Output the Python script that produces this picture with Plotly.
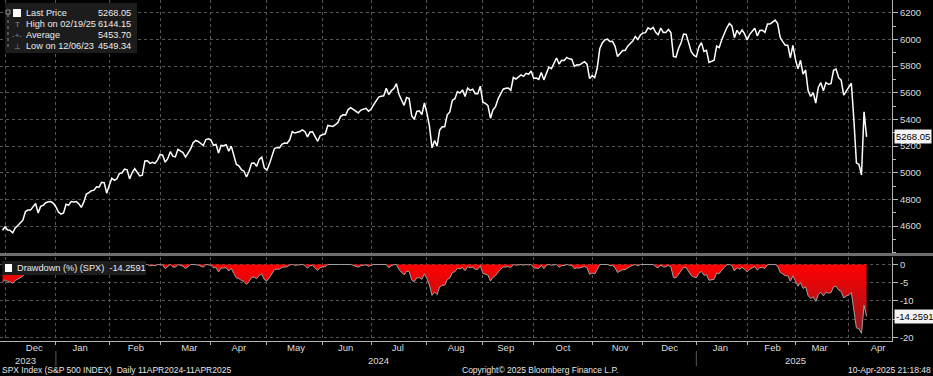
import pandas as pd
import plotly.graph_objects as go

# ---------------- data (SPX daily closes) ----------------
HOLIDAYS = ["2023-12-25", "2024-01-01", "2024-01-15", "2024-02-19", "2024-03-29",
            "2024-05-27", "2024-06-19", "2024-07-04", "2024-09-02", "2024-11-28",
            "2024-12-25", "2025-01-01", "2025-01-09", "2025-01-20", "2025-02-17",
            "2025-04-18"]

close_2023_11 = [4567.80]
close_2023_12 = [4594.63, 4569.78, 4567.18, 4549.34, 4585.59, 4604.37, 4622.44, 4643.70,
                 4707.09, 4719.55, 4719.19, 4740.56, 4768.37, 4698.35, 4746.75, 4754.63,
                 4774.75, 4781.58, 4783.35, 4769.83]
close_2024_01 = [4742.83, 4704.81, 4688.68, 4697.24, 4763.54, 4756.50, 4783.45, 4780.24,
                 4783.83, 4765.98, 4739.21, 4780.94, 4839.81, 4850.43, 4864.60, 4868.55,
                 4894.16, 4890.97, 4927.93, 4924.97, 4845.65]
close_2024_02 = [4906.19, 4958.61, 4942.81, 4954.23, 4995.06, 4997.91, 5026.61, 5021.84,
                 4953.17, 5000.62, 5029.73, 5005.57, 4975.51, 4981.80, 5087.03, 5088.80,
                 5069.53, 5078.18, 5069.76, 5096.27]
close_2024_03 = [5137.08, 5130.95, 5078.65, 5104.76, 5157.36, 5123.69, 5117.94, 5175.27,
                 5165.31, 5150.48, 5117.09, 5149.42, 5178.51, 5224.62, 5241.53, 5234.18,
                 5218.19, 5203.58, 5248.49, 5254.35]
close_2024_04 = [5243.77, 5205.81, 5211.49, 5147.21, 5204.34, 5202.39, 5209.91, 5160.64,
                 5199.06, 5123.41, 5061.82, 5051.41, 5022.21, 5011.12, 4967.23, 5010.60,
                 5070.55, 5071.63, 5048.42, 5099.96, 5116.17, 5035.69]
close_2024_05 = [5018.39, 5064.20, 5127.79, 5180.74, 5187.70, 5187.67, 5214.08, 5222.68,
                 5221.42, 5246.68, 5308.15, 5297.10, 5303.27, 5308.13, 5321.41, 5307.01,
                 5267.84, 5304.72, 5306.04, 5266.95, 5235.48, 5277.51]
close_2024_06 = [5283.40, 5291.34, 5354.03, 5352.96, 5346.99, 5360.79, 5375.32, 5421.03,
                 5433.74, 5431.60, 5473.23, 5487.03, 5473.17, 5464.62, 5447.87, 5469.30,
                 5477.90, 5482.87, 5460.48]
close_2024_07 = [5475.09, 5509.01, 5537.02, 5567.19, 5572.85, 5576.98, 5633.91, 5584.54,
                 5615.35, 5631.22, 5667.20, 5588.27, 5544.59, 5505.00, 5564.41, 5555.74,
                 5427.13, 5399.22, 5459.10, 5463.54, 5436.44, 5522.30]
close_2024_08 = [5446.68, 5346.56, 5186.33, 5240.03, 5199.50, 5319.31, 5344.16, 5344.39,
                 5434.43, 5455.21, 5543.22, 5554.25, 5608.25, 5597.12, 5620.85, 5570.64,
                 5634.61, 5616.84, 5625.80, 5592.18, 5591.96, 5648.40]
close_2024_09 = [5528.93, 5520.07, 5503.41, 5408.42, 5471.05, 5495.52, 5554.13, 5595.76,
                 5626.02, 5633.09, 5634.58, 5618.26, 5713.64, 5702.55, 5718.57, 5732.93,
                 5722.26, 5745.37, 5738.17, 5762.48]
close_2024_10 = [5708.75, 5709.54, 5699.94, 5751.07, 5695.94, 5751.13, 5792.04, 5780.05,
                 5815.03, 5859.85, 5815.26, 5842.47, 5841.47, 5864.67, 5853.98, 5851.20,
                 5797.42, 5809.86, 5808.12, 5823.52, 5832.92, 5813.67, 5705.45]
close_2024_11 = [5728.80, 5712.69, 5782.76, 5929.04, 5973.10, 5995.54, 6001.35, 5983.99,
                 5985.38, 5949.17, 5870.62, 5893.62, 5916.98, 5917.11, 5948.71, 5969.34,
                 5987.37, 6021.63, 5998.74, 6032.38]
close_2024_12 = [6047.15, 6049.88, 6086.49, 6075.11, 6090.27, 6052.85, 6034.91, 6084.19,
                 6051.25, 6051.09, 6074.08, 6050.61, 5872.16, 5867.08, 5930.85, 5974.07,
                 6040.04, 6037.59, 5970.84, 5906.94, 5881.63]
close_2025_01 = [5868.55, 5942.47, 5975.38, 5909.03, 5918.25, 5827.04, 5836.22, 5842.91,
                 5949.91, 5937.34, 5996.66, 6049.24, 6086.37, 6118.71, 6101.24, 6012.28,
                 6067.70, 6039.31, 6071.17, 6040.53]
close_2025_02 = [5994.57, 6037.88, 6061.48, 6083.57, 6025.99, 6066.44, 6068.50, 6051.97,
                 6115.07, 6114.63, 6129.58, 6144.15, 6117.52, 6013.13, 5983.25, 5955.25,
                 5956.06, 5861.57, 5954.50]
close_2025_03 = [5849.72, 5778.15, 5842.63, 5738.52, 5770.20, 5614.56, 5572.07, 5599.30,
                 5521.52, 5638.94, 5675.12, 5614.66, 5675.29, 5662.89, 5667.56, 5767.57,
                 5776.65, 5712.20, 5693.31, 5580.94, 5611.85]
close_2025_04 = [5633.07, 5670.97, 5396.52, 5074.08, 5062.25, 4982.77, 5456.90, 5268.05]

PRIOR_HIGH = 4796.56  # all-time high set before the window (used for drawdown)

LEGEND_LABELS = ["Last Price", "High on 02/19/25", "Average", "Low on 12/06/23"]
LEGEND_VALUES = ["5268.05", "6144.15", "5453.70", "4549.34"]
LAST_PRICE = 5268.05
LAST_DRAWDOWN = -14.2591
PRICE_TICKS = [4600, 4800, 5000, 5200, 5400, 5600, 5800, 6000, 6200]
DD_TICKS = [0, -5, -10, -15, -20]
DD_TICKTEXT = ["0", "-5", "-10", "", "-20"]
YEAR_LABELS = ["2023", "2024", "2025"]
YEAR_POS = ["2023-12-13", "2024-07-05", "2025-03-03"]
YEAR_SEPARATORS = ["2024-01-01", "2025-01-01"]

# ---------------- build series ----------------
closes = (close_2023_11 + close_2023_12 + close_2024_01 + close_2024_02 + close_2024_03 +
          close_2024_04 + close_2024_05 + close_2024_06 + close_2024_07 + close_2024_08 +
          close_2024_09 + close_2024_10 + close_2024_11 + close_2024_12 + close_2025_01 +
          close_2025_02 + close_2025_03 + close_2025_04)
dates = pd.bdate_range("2023-11-30", "2025-04-10")
dates = dates[~dates.isin(pd.to_datetime(HOLIDAYS))]
assert len(dates) == len(closes), (len(dates), len(closes))

s = pd.Series(closes, index=dates)
peak = s.cummax().clip(lower=PRIOR_HIGH)
drawdown = (s / peak - 1.0) * 100.0

FONT = "Arial, Liberation Sans, sans-serif"
GRID = "#555555"
AXC = "#b4b4b4"
TXT = "#dcdcdc"

W_PLOT = 892.0
H_PLOT = 341.0


def px(x):
    return x / W_PLOT


def py(y):
    return (H_PLOT - y) / H_PLOT


fig = go.Figure()
fig.add_trace(go.Scatter(x=dates, y=s.values, mode="lines",
                         line=dict(color="#ffffff", width=1.5),
                         xaxis="x", yaxis="y", hoverinfo="skip"))
fig.add_trace(go.Scatter(x=dates, y=drawdown.values, mode="lines", fill="tozeroy",
                         line=dict(color="#a0a0a0", width=1),
                         fillgradient=dict(type="vertical", start=-20, stop=0,
                                           colorscale=[[0, "#8e1a1f"], [1, "#ff0000"]]),
                         xaxis="x2", yaxis="y2", hoverinfo="skip"))

rangebreaks = [dict(bounds=["sat", "mon"]), dict(values=HOLIDAYS)]
xrange = ["2023-11-29", "2025-04-25"]

fig.update_layout(
    width=933, height=376,
    paper_bgcolor="#000000", plot_bgcolor="#000000",
    margin=dict(l=0, r=41, t=0, b=35),
    showlegend=False,
    font=dict(family=FONT, color=TXT, size=10),
    xaxis=dict(domain=[0, 1], anchor="y", matches="x2", showticklabels=False,
               range=xrange, rangebreaks=rangebreaks, dtick="M1", tick0="2023-12-01",
               showgrid=True, gridcolor=GRID, griddash="dot", gridwidth=1,
               ticks="", zeroline=False, showline=False),
    xaxis2=dict(domain=[0, 1], anchor="y2", range=xrange, rangebreaks=rangebreaks,
                dtick="M1", tick0="2023-12-01", tickformat="%b", ticklabelmode="period",
                showgrid=True, gridcolor=GRID, griddash="dot", gridwidth=1,
                ticks="outside", ticklen=3, tickcolor=AXC, showline=True, linecolor=AXC,
                ticklabelstandoff=-5,
                tickfont=dict(size=9.5, color=TXT), zeroline=False),
    yaxis=dict(domain=[py(254), 1], anchor="x", side="right", range=[4390, 6295],
               tickvals=PRICE_TICKS, showgrid=True, gridcolor=GRID, griddash="dot",
               ticks="outside", ticklen=5, tickcolor=AXC, showline=True, linecolor=AXC,
               tickfont=dict(size=9.5, color=TXT), zeroline=False,
               minor=dict(dtick=100, tick0=4400, ticks="outside", ticklen=3,
                          tickcolor=AXC, showgrid=False)),
    yaxis2=dict(domain=[0, py(257)], anchor="x2", side="right", range=[-21.0, 2.06],
                tickvals=DD_TICKS, ticktext=DD_TICKTEXT, showgrid=True, gridcolor=GRID,
                griddash="dot", ticks="outside", ticklen=5, tickcolor=AXC,
                showline=True, linecolor=AXC, tickfont=dict(size=9.5, color=TXT),
                zeroline=False),
)

shapes = []
# separator between panels
shapes.append(dict(type="rect", xref="paper", yref="paper", x0=0, x1=933 / W_PLOT,
                   y0=py(256), y1=py(253), fillcolor="#6e6e6e", line=dict(width=0),
                   layer="above"))
# top legend box
shapes.append(dict(type="rect", xref="paper", yref="paper", x0=px(5), x1=px(137),
                   y0=py(53), y1=py(3), fillcolor="#1c1c1c", line=dict(width=0)))
shapes.append(dict(type="rect", xref="paper", yref="paper", x0=px(13), x1=px(21),
                   y0=py(17), y1=py(9), fillcolor="#ffffff", line=dict(width=0)))
# tree glyph
shapes.append(dict(type="rect", xref="paper", yref="paper", x0=px(6), x1=px(10),
                   y0=py(14), y1=py(10), fillcolor="rgba(0,0,0,0)",
                   line=dict(color="#8a8a8a", width=1)))
shapes.append(dict(type="line", xref="paper", yref="paper", x0=px(8), x1=px(8),
                   y0=py(47), y1=py(14), line=dict(color="#8a8a8a", width=1, dash="dot")))
# drawdown legend box
shapes.append(dict(type="rect", xref="paper", yref="paper", x0=px(2), x1=px(146),
                   y0=py(275), y1=py(261), fillcolor="#1c1c1c", line=dict(width=0)))
shapes.append(dict(type="rect", xref="paper", yref="paper", x0=px(5), x1=px(12),
                   y0=py(272), y1=py(264), fillcolor="#ffffff", line=dict(width=0)))
# year separators
for d in YEAR_SEPARATORS:
    shapes.append(dict(type="line", xref="x2", yref="paper", x0=d, x1=d,
                       y0=py(366), y1=py(351), line=dict(color="#5a5a5a", width=1)))
fig.update_layout(shapes=shapes)

ann = []
rows_y = [13, 24, 35, 46]
LF = 9.2
for lab, val, yy in zip(LEGEND_LABELS, LEGEND_VALUES, rows_y):
    ann.append(dict(x=px(24), y=py(yy), xref="paper", yref="paper", text=lab,
                    showarrow=False, xanchor="left", yanchor="middle",
                    font=dict(size=LF, color="#ececec")))
    ann.append(dict(x=px(133), y=py(yy), xref="paper", yref="paper", text=val,
                    showarrow=False, xanchor="right", yanchor="middle",
                    font=dict(size=LF, color="#ececec")))
for g, yy in zip(["T", "-+-", "\u22a5"], rows_y[1:]):
    ann.append(dict(x=px(17), y=py(yy), xref="paper", yref="paper", text=g,
                    showarrow=False, xanchor="center", yanchor="middle",
                    font=dict(size=8, color="#8a8a8a")))
ann.append(dict(x=px(15), y=py(268), xref="paper", yref="paper",
                text="Drawdown (%%) (SPX)  %.4f" % LAST_DRAWDOWN, showarrow=False,
                xanchor="left", yanchor="middle", font=dict(size=LF, color="#ececec")))
# last value tags
ann.append(dict(x=1, y=LAST_PRICE, xref="paper", yref="y", text="%.2f" % LAST_PRICE,
                showarrow=False, xanchor="left", yanchor="middle", xshift=2,
                bgcolor="#f4f4f4", borderpad=1, font=dict(size=9.5, color="#000000")))
ann.append(dict(x=1, y=LAST_DRAWDOWN, xref="paper", yref="y2", text="%.4f" % LAST_DRAWDOWN,
                showarrow=False, xanchor="left", yanchor="middle", xshift=2,
                bgcolor="#f4f4f4", borderpad=1, font=dict(size=9.5, color="#000000")))
# years
for lab, d in zip(YEAR_LABELS, YEAR_POS):
    ann.append(dict(x=d, y=py(360), xref="x2", yref="paper", text=lab, showarrow=False,
                    xanchor="center", yanchor="middle", font=dict(size=9.5, color=TXT)))
# footer
ann.append(dict(x=0, y=py(370), xref="paper", yref="paper",
                text="SPX Index (S&P 500 INDEX)  Daily 11APR2024-11APR2025",
                showarrow=False, xanchor="left", yanchor="middle",
                font=dict(size=8.5, color="#e6e6e6")))
ann.append(dict(x=px(540), y=py(370), xref="paper", yref="paper",
                text="Copyright\u00a9 2025 Bloomberg Finance L.P.", showarrow=False,
                xanchor="center", yanchor="middle", font=dict(size=8.5, color="#e6e6e6")))
ann.append(dict(x=933 / W_PLOT, y=py(370), xref="paper", yref="paper",
                text="10-Apr-2025 21:18:48", showarrow=False, xanchor="right",
                yanchor="middle", font=dict(size=8.5, color="#e6e6e6")))
fig.update_layout(annotations=ann)

fig.write_html("out.html", config={"displayModeBar": False},
               post_script="document.body.style.margin='0';"
                           "document.body.style.background='#000';")
